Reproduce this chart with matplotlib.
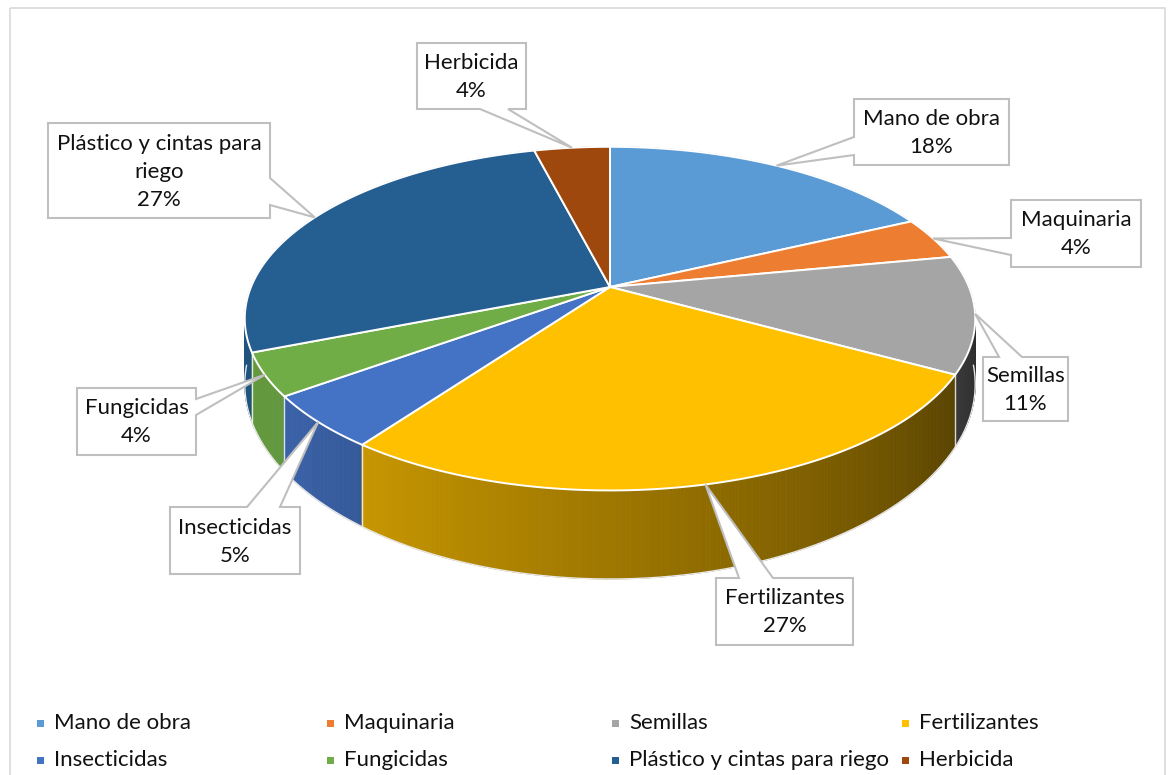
import numpy as np
import matplotlib.pyplot as plt
from matplotlib.patches import Polygon, Rectangle
from matplotlib.collections import PolyCollection
import matplotlib.colors as mcolors

# data
categories = ['Mano de obra', 'Maquinaria', 'Semillas', 'Fertilizantes',
              'Insecticidas', 'Fungicidas', 'Plástico y cintas para riego', 'Herbicida']
values = [18, 4, 11, 27, 5, 4, 27, 4]
label_text = ['Mano de obra', 'Maquinaria', 'Semillas', 'Fertilizantes',
              'Insecticidas', 'Fungicidas', 'Plástico y cintas para\nriego', 'Herbicida']
colors = ['#5B9BD5', '#ED7D31', '#A5A5A5', '#FFC000',
          '#4472C4', '#70AD47', '#255E91', '#9E480E']

plt.rcParams['font.family'] = ['Lato', 'DejaVu Sans']

fig = plt.figure(figsize=(11.7, 7.75), dpi=100)
ax = fig.add_axes([0, 0, 1, 1])
ax.set_xlim(0, 1170)
ax.set_ylim(775, 0)
ax.axis('off')

# chart border
ax.add_patch(Rectangle((10, 8), 1155, 800, fill=False, ec='#d9d9d9', lw=1.2, zorder=0))

# pie geometry in pixels, with a bit of perspective
cx, cy = 610, 287
R, A, k = 359, 166, 0.184
D, k2 = 62, 0.30


def top(th):
    t = np.radians(th)
    u, v = np.sin(t), -np.cos(t)
    s = 1 - k * v
    return cx + R * u / s, cy + A * v / s, v


def bottom(th):
    x, y, v = top(th)
    return x, y + D / (1 - k2 * v), v


def shade(th):
    th = th % 360
    return np.clip(0.35 + (th - 120) * 0.0045, 0.22, 0.88)


total = sum(values)
edges = np.concatenate([[0], np.cumsum(values)]) / total * 360

# side walls
quads, qcols, qv = [], [], []
dt = 0.5
for i in range(len(values)):
    a0, a1 = edges[i], edges[i + 1]
    base = np.array(mcolors.to_rgb(colors[i]))
    t = a0
    while t < a1 - 1e-9:
        t2 = min(t + dt, a1)
        x1, y1, v1 = top(t)
        x2, y2, v2 = top(t2)
        x3, y3, _ = bottom(t2)
        x4, y4, _ = bottom(t)
        quads.append([(x1, y1), (x2, y2), (x3, y3), (x4, y4)])
        qcols.append(tuple(base * shade((t + t2) / 2)))
        qv.append((v1 + v2) / 2)
        t = t2
order = np.argsort(qv)
quads = [quads[j] for j in order]
qcols = [qcols[j] for j in order]
ax.add_collection(PolyCollection(quads, facecolors=qcols, edgecolors=qcols,
                                 linewidths=0.6, zorder=2))

# wall separators and bottom rim
for a in edges[:-1]:
    xt, yt, _ = top(a)
    xb, yb, _ = bottom(a)
    ax.plot([xt, xb], [yt, yb], color='white', lw=1, alpha=0.8, zorder=2.5)
rim = np.linspace(95, 265, 200)
bx = [bottom(t)[0] for t in rim]
by = [bottom(t)[1] for t in rim]
ax.plot(bx, by, color='#e8e8e8', lw=1, zorder=2.5)

# top faces
for i in range(len(values)):
    ts = np.linspace(edges[i], edges[i + 1], 120)
    pts = [(cx, cy)] + [top(t)[:2] for t in ts]
    ax.add_patch(Polygon(pts, closed=True, fc=colors[i], ec='white', lw=1.4,
                         joinstyle='round', zorder=3))

# callouts: box, side of pointer, pointer base
boxes = [
    (854, 99, 1009, 165, 'left', 137, 155),
    (1011, 200, 1141, 267, 'left', 238, 255),
    (983, 357, 1068, 421, 'top', 999, 1022),
    (716, 578, 853, 645, 'top', 739, 773),
    (170, 507, 300, 574, 'top', 247, 280),
    (77, 388, 196, 455, 'right', 399, 415),
    (48, 123, 270, 218, 'right', 178, 205),
    (417, 43, 526, 109, 'bottom', 480, 508),
]

for i, (x0, y0, x1, y1, side, b0, b1) in enumerate(boxes):
    mid = (edges[i] + edges[i + 1]) / 2
    tx, ty, _ = top(mid)
    tip = (tx, ty)
    if side == 'left':
        pts = [(x0, y0), (x1, y0), (x1, y1), (x0, y1), (x0, b1), tip, (x0, b0)]
    elif side == 'right':
        pts = [(x0, y0), (x1, y0), (x1, b0), tip, (x1, b1), (x1, y1), (x0, y1)]
    elif side == 'top':
        pts = [(x0, y0), (b0, y0), tip, (b1, y0), (x1, y0), (x1, y1), (x0, y1)]
    else:
        pts = [(x0, y0), (x1, y0), (x1, y1), (b1, y1), tip, (b0, y1), (x0, y1)]
    ax.add_patch(Polygon(pts, closed=True, fc='white', ec='#bfbfbf', lw=1.5, zorder=5))
    pct = '%d%%' % round(values[i] / total * 100)
    ax.text((x0 + x1) / 2, (y0 + y1) / 2 + 1, label_text[i] + '\n' + pct,
            ha='center', va='center', fontsize=16, color='#111111',
            linespacing=1.5, zorder=6)

# legend
leg_x = [40, 330, 615, 905]
leg_y = [723, 760]
for i, name in enumerate(categories):
    lx = leg_x[i % 4]
    ly = leg_y[i // 4]
    ax.add_patch(Rectangle((lx - 3.5, ly - 3.5), 7, 7, fc=colors[i], ec='none', zorder=5))
    ax.text(lx + 14, ly, name, ha='left', va='center', fontsize=16,
            color='#111111', zorder=6)

fig.savefig('out.png', dpi=100)
